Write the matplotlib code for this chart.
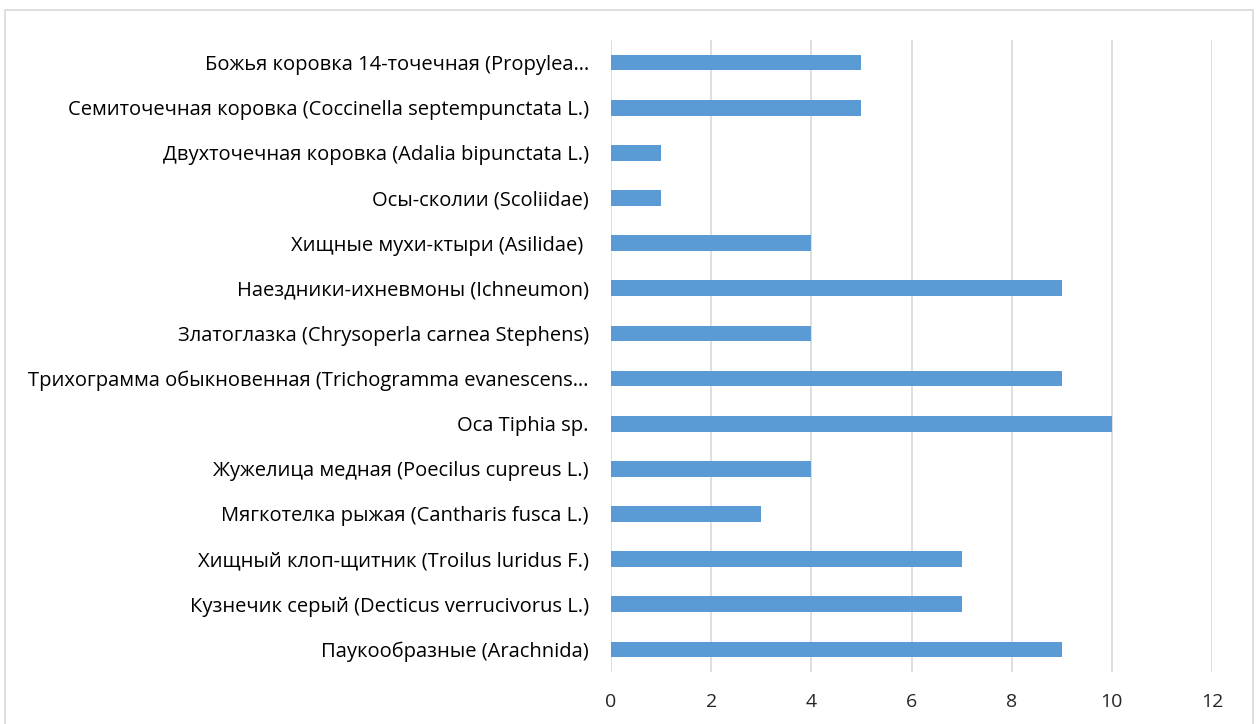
import matplotlib
matplotlib.use("Agg")
import matplotlib.pyplot as plt
from matplotlib.patches import Rectangle

# species, listed top to bottom as on the chart
species = [
    "Божья коровка 14-точечная (Propylea…",
    "Семиточечная коровка (Coccinella septempunctata L.)",
    "Двухточечная коровка (Adalia bipunctata L.)",
    "Осы-сколии (Scoliidae)",
    "Хищные мухи-ктыри (Asilidae) ",
    "Наездники-ихневмоны (Ichneumon)",
    "Златоглазка (Chrysoperla carnea Stephens)",
    "Трихограмма обыкновенная (Trichogramma evanescens…",
    "Оса Tiphia sp.",
    "Жужелица медная (Poecilus cupreus L.)",
    "Мягкотелка рыжая (Cantharis fusca L.)",
    "Хищный клоп-щитник (Troilus luridus F.)",
    "Кузнечик серый (Decticus verrucivorus L.)",
    "Паукообразные (Arachnida)",
]
counts = [5, 5, 1, 1, 4, 9, 4, 9, 10, 4, 3, 7, 7, 9]
x_ticks = [0, 2, 4, 6, 8, 10, 12]

plt.rcParams["font.family"] = ["Open Sans", "DejaVu Sans"]

fig = plt.figure(figsize=(12.59, 7.24), dpi=100)
fig.patch.set_facecolor("white")

# thin grey frame around the chart area
fig.patches.append(Rectangle((5 / 1259, -0.01), 1248 / 1259, 1 - 10 / 724 + 0.01,
                             transform=fig.transFigure, fill=False,
                             edgecolor="#d9d9d9", linewidth=1.2))

ax = fig.add_axes([611 / 1259, 1 - 672 / 724, 601 / 1259, 632 / 724])

n = len(species)
ypos = list(range(n - 1, -1, -1))
ax.barh(ypos, counts, height=0.35, color="#5b9bd5", zorder=3)

ax.set_xlim(0, 12)
ax.set_ylim(-0.5, n - 0.5)
ax.set_xticks(x_ticks)
ax.set_xticklabels([str(t) for t in x_ticks], fontsize=14, color="#262626")
ax.set_yticks(ypos)
ax.set_yticklabels(species, fontsize=14.5, color="#000000")

ax.grid(axis="x", color="#d9d9d9", linewidth=1.2, zorder=0)
ax.tick_params(axis="both", length=0)
ax.tick_params(axis="y", pad=16)
ax.tick_params(axis="x", pad=15)
for s in ax.spines.values():
    s.set_visible(False)

fig.savefig("out.png", dpi=100, facecolor="white")
